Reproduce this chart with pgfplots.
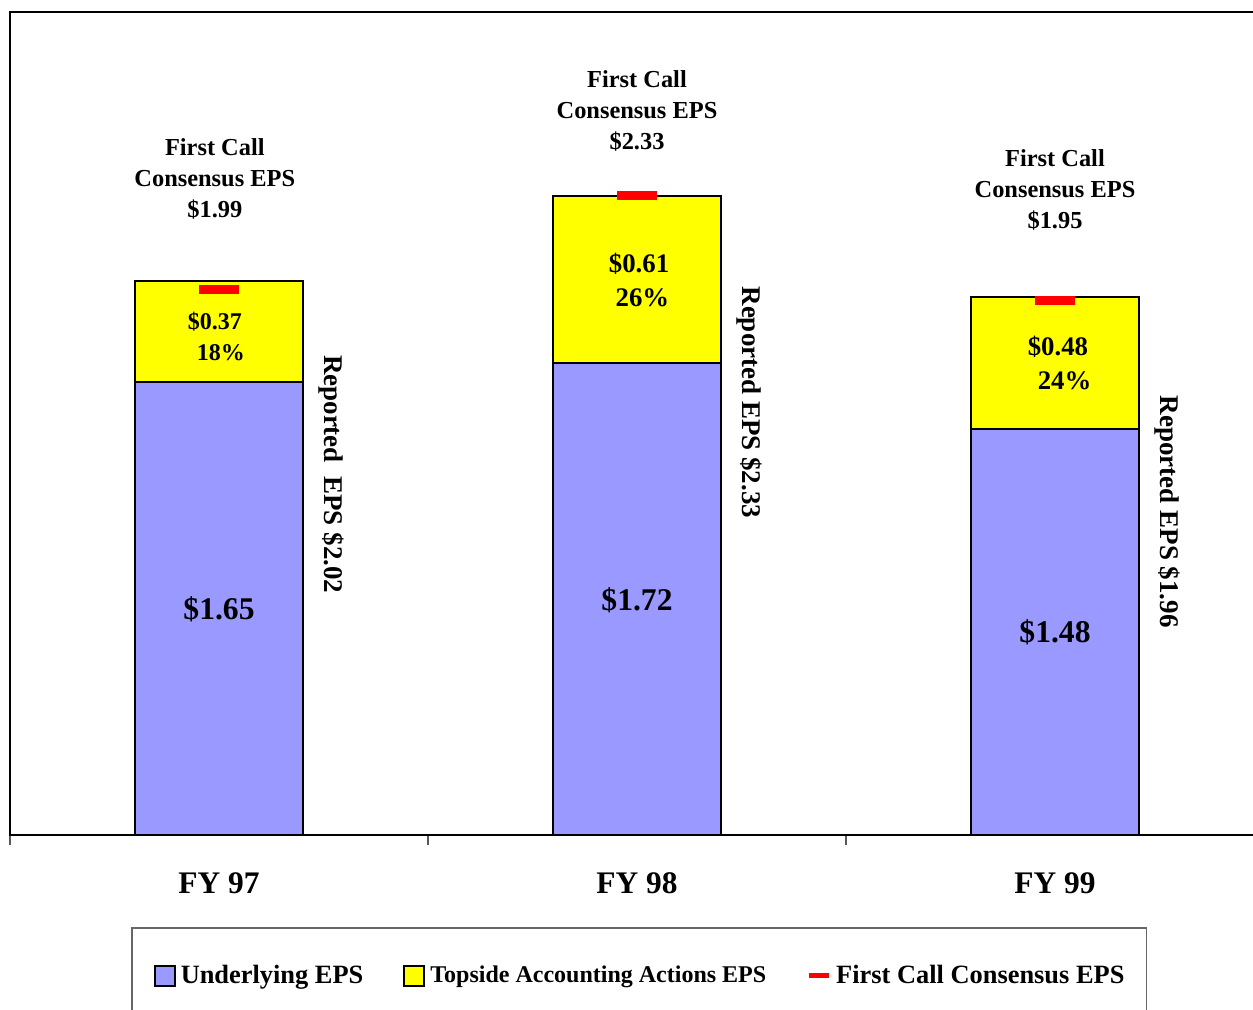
\documentclass[border=0pt]{standalone}
\usepackage{pgfplots}
\pgfplotsset{compat=1.18}
\usepackage{fontspec}
\setmainfont{Liberation Serif}
\definecolor{underl}{HTML}{9999FF}
\definecolor{tops}{HTML}{FFFF00}
\definecolor{fcred}{HTML}{FF0000}
\begin{document}
\begin{tikzpicture}
\begin{axis}[
  scale only axis,
  width=627pt, height=411.5pt,
  xmin=-0.5, xmax=2.5, ymin=0, ymax=3,
  axis line style={line width=0.75pt},
  ytick=\empty,
  xtick pos=bottom,
  xtick={0,1,2},
  xticklabels={FY 97,FY 98,FY 99},
  major tick length=0pt,
  minor xtick={-0.5,0.5,1.5,2.5},
  minor tick length=5pt,
  tick align=outside,
  every minor tick/.append style={gray!70!black, line width=0.6pt},
  xticklabel style={font=\fontsize{15.7}{18}\selectfont\bfseries, yshift=-15.5pt},
  legend columns=3,
  legend style={at={(0.0965,-0.1118)}, anchor=north west,
    draw=gray!80!black, line width=0.75pt,
    inner xsep=11pt, inner ysep=18.5pt,
    font=\fontsize{13.2}{15}\selectfont\bfseries,
    nodes={inner sep=0pt},
    /tikz/every odd column/.append style={column sep=2.5pt},
    /tikz/every even column/.append style={column sep=20pt}},
]
\addplot[ybar, bar shift=0pt, bar width=0.4, fill=tops, draw=black, line width=1pt,
  legend image code/.code={\draw[fill=underl,draw=black,line width=1pt] (0pt,-5pt) rectangle (10pt,5pt);}]
  coordinates {(0,2.02) (1,2.33) (2,1.96)};
\addlegendentry{Underlying EPS}
\addplot[ybar, bar shift=0pt, bar width=0.4, fill=underl, draw=black, line width=1pt,
  legend image code/.code={\draw[fill=tops,draw=black,line width=1pt] (0pt,-5pt) rectangle (10pt,5pt);}]
  coordinates {(0,1.65) (1,1.72) (2,1.48)};
\addlegendentry{\fontsize{12}{14}\selectfont Topside Accounting Actions EPS}
\addplot[only marks, mark=-, mark size=10pt, mark options={draw=fcred, line width=4.5pt},
  legend image code/.code={\draw[fcred,line width=2.5pt] (0pt,0pt) -- (10pt,0pt);}]
  coordinates {(0,1.99) (1,2.33) (2,1.95)};
\addlegendentry{First Call Consensus EPS}
% annotations
\tikzset{ann/.style={align=center, font=\fontsize{12.2}{15.5}\selectfont\bfseries}}
\node[ann] at (axis cs:-0.01,2.39) {First Call\\Consensus EPS\\\$1.99};
\node[ann] at (axis cs:1,2.641) {First Call\\Consensus EPS\\\$2.33};
\node[ann] at (axis cs:2,2.35) {First Call\\Consensus EPS\\\$1.95};
\node[align=center, font=\fontsize{12}{15.5}\selectfont\bfseries] at (axis cs:-0.01,1.816) {\$0.37\\\hspace*{0.5em}18\%};
\node[align=center, font=\fontsize{13.4}{17}\selectfont\bfseries] at (axis cs:1.005,2.025) {\$0.61\\\hspace*{0.25em}26\%};
\node[align=center, font=\fontsize{13.4}{17}\selectfont\bfseries] at (axis cs:2.007,1.72) {\$0.48\\\hspace*{0.5em}24\%};
\tikzset{big/.style={font=\fontsize{15.8}{18}\selectfont\bfseries}}
\node[big] at (axis cs:0,0.823) {\$1.65};
\node[big] at (axis cs:1,0.856) {\$1.72};
\node[big] at (axis cs:2,0.7395) {\$1.48};
\tikzset{rot/.style={rotate=-90, font=\fontsize{13.5}{16}\selectfont\bfseries}}
\node[rot] at (axis cs:0.27,1.315) {Reported\ \ EPS \$2.02};
\node[rot] at (axis cs:1.27,1.577) {Reported EPS \$2.33};
\node[rot] at (axis cs:2.27,1.178) {Reported EPS \$1.96};
\end{axis}
\pgfresetboundingbox
\path[use as bounding box] (-5pt,-87pt) rectangle (621.5pt,417.5pt);
\end{tikzpicture}
\end{document}
